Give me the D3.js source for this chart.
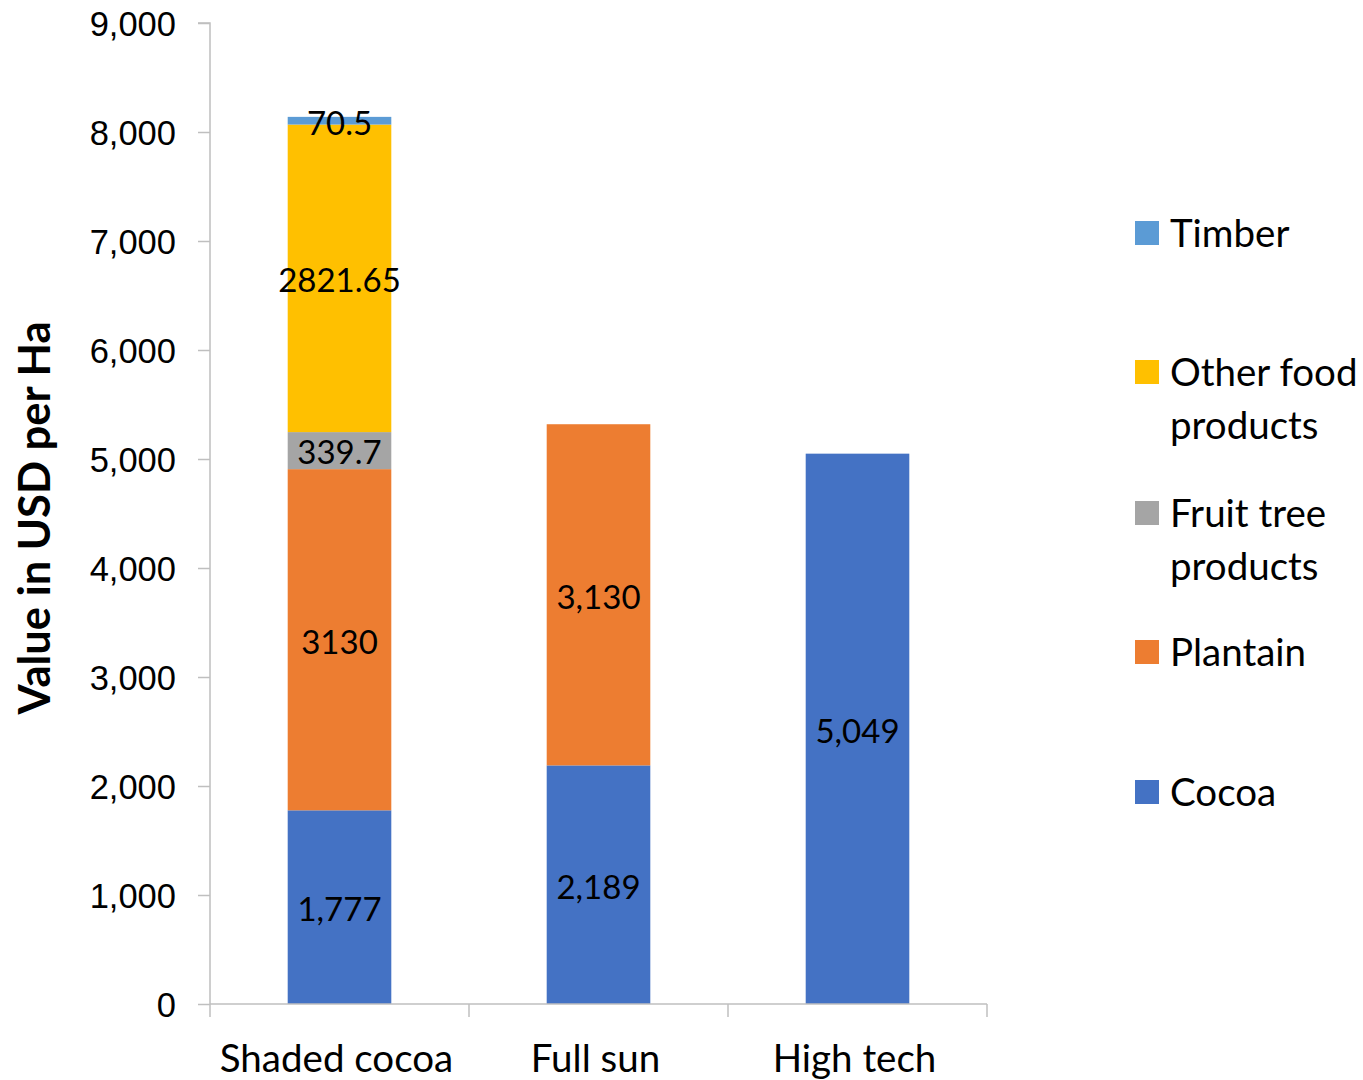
<!DOCTYPE html>
<html>
<head>
<meta charset="utf-8">
<script src="https://cdn.jsdelivr.net/npm/d3@7"></script>
<style>
  html, body { margin: 0; padding: 0; background: #fff; }
  svg { display: block; font-family: Lato, "Open Sans", sans-serif; }
</style>
</head>
<body>
<svg id="chart" width="1363" height="1080"></svg>
<script>
// Farming systems on the x axis
const categories = ["Shaded cocoa", "Full sun", "High tech"];

// Stacked components, bottom to top
const seriesNames = ["Cocoa", "Plantain", "Fruit tree products", "Other food products", "Timber"];
const cocoa      = [1777, 2189, 5049];
const plantain   = [3130, 3130, 0];
const fruitTree  = [339.7, 0, 0];
const otherFood  = [2821.65, 0, 0];
const timber     = [70.5, 0, 0];

// Data labels as printed on each segment (null = no label)
const cocoaLabels     = ["1,777", "2,189", "5,049"];
const plantainLabels  = ["3130", "3,130", null];
const fruitTreeLabels = ["339.7", null, null];
const otherFoodLabels = ["2821.65", null, null];
const timberLabels    = ["70.5", null, null];

const yTicks = [0, 1000, 2000, 3000, 4000, 5000, 6000, 7000, 8000, 9000];
const colors = ["#4472C4", "#ED7D31", "#A5A5A5", "#FFC000", "#5B9BD5"];

const seriesValues = [cocoa, plantain, fruitTree, otherFood, timber];
const seriesLabels = [cocoaLabels, plantainLabels, fruitTreeLabels, otherFoodLabels, timberLabels];

const rows = categories.map((c, i) => {
  const r = { category: c };
  seriesNames.forEach((s, j) => { r[s] = seriesValues[j][i]; });
  return r;
});

const svg = d3.select("#chart");
const plot = { left: 210, right: 987, top: 23, bottom: 1004 };

const x = d3.scaleBand().domain(categories).range([plot.left, plot.right]).paddingInner(0.6).paddingOuter(0.3);
const y = d3.scaleLinear().domain([0, 9000]).range([plot.bottom, plot.top]);
const color = d3.scaleOrdinal().domain(seriesNames).range(colors);

const stacked = d3.stack().keys(seriesNames)(rows);

const axisColor = "#BFBFBF";

// Bars
const layers = svg.append("g").selectAll("g").data(stacked).join("g")
  .attr("fill", d => color(d.key));
layers.selectAll("rect").data(d => d.map(p => ({ p, key: d.key })))
  .join("rect")
  .filter(d => d.p[1] - d.p[0] > 0)
  .attr("x", d => x(d.p.data.category))
  .attr("width", x.bandwidth())
  .attr("y", d => y(d.p[1]))
  .attr("height", d => y(d.p[0]) - y(d.p[1]));

// Y axis
const yAxis = svg.append("g").attr("transform", `translate(${plot.left},0)`)
  .call(d3.axisLeft(y).tickValues(yTicks).tickFormat(d3.format(",")).tickSize(12).tickPadding(22));
yAxis.select(".domain").attr("stroke", axisColor).attr("stroke-width", 1.5)
  .attr("d", `M-12,${y(9000)}H0V${y(0)}`);
yAxis.selectAll(".tick line").attr("stroke", axisColor).attr("stroke-width", 1.5);
yAxis.selectAll(".tick text").attr("fill", "#000").style("font-size", "34.5px").attr("dy", "0.36em");

// X axis with boundary ticks between categories
const xAxisG = svg.append("g").attr("transform", `translate(0,${plot.bottom})`);
xAxisG.append("line").attr("x1", plot.left).attr("x2", plot.right)
  .attr("stroke", axisColor).attr("stroke-width", 1.5);
const bounds = d3.range(categories.length + 1).map(i => plot.left + i * (plot.right - plot.left) / categories.length);
xAxisG.selectAll("line.tk").data(bounds).join("line").attr("class", "tk")
  .attr("x1", d => d).attr("x2", d => d).attr("y1", 0).attr("y2", 13)
  .attr("stroke", axisColor).attr("stroke-width", 1.5);
xAxisG.selectAll("text").data(categories).join("text")
  .attr("x", d => x(d) + x.bandwidth() / 2 - 3)
  .attr("y", 68)
  .attr("text-anchor", "middle")
  .style("font-size", "38.5px")
  .attr("fill", "#000")
  .text(d => d);

// Segment value labels
const labelData = [];
stacked.forEach((layer, j) => {
  layer.forEach((p, i) => {
    const lab = seriesLabels[j][i];
    if (lab !== null) labelData.push({ cat: p.data.category, mid: (p[0] + p[1]) / 2, text: lab });
  });
});
svg.append("g").selectAll("text").data(labelData).join("text")
  .attr("x", d => x(d.cat) + x.bandwidth() / 2)
  .attr("y", d => y(d.mid))
  .attr("dy", "0.42em")
  .attr("text-anchor", "middle")
  .style("font-size", "33px")
  .attr("fill", "#000")
  .text(d => d.text);

// Y axis title
svg.append("text")
  .attr("transform", `translate(50,518) rotate(-90)`)
  .attr("text-anchor", "middle")
  .style("font-size", "43.5px")
  .style("font-weight", "bold")
  .attr("fill", "#000")
  .text("Value in USD per Ha");

// Legend, listed top to bottom in reverse stacking order
const legendItems = [
  { key: "Timber", lines: ["Timber"], y: 233 },
  { key: "Other food products", lines: ["Other food", "products"], y: 372 },
  { key: "Fruit tree products", lines: ["Fruit tree", "products"], y: 513 },
  { key: "Plantain", lines: ["Plantain"], y: 652 },
  { key: "Cocoa", lines: ["Cocoa"], y: 792 }
];
const lg = svg.append("g").selectAll("g").data(legendItems).join("g")
  .attr("transform", d => `translate(1135,${d.y})`);
lg.append("rect").attr("x", 0).attr("y", -12).attr("width", 24).attr("height", 24)
  .attr("fill", d => color(d.key));
lg.each(function(d) {
  const t = d3.select(this).append("text")
    .style("font-size", "38.5px").attr("fill", "#000");
  d.lines.forEach((ln, k) => {
    t.append("tspan").attr("x", 35).attr("y", k * 53).attr("dy", "0.36em").text(ln);
  });
});
</script>
</body>
</html>
